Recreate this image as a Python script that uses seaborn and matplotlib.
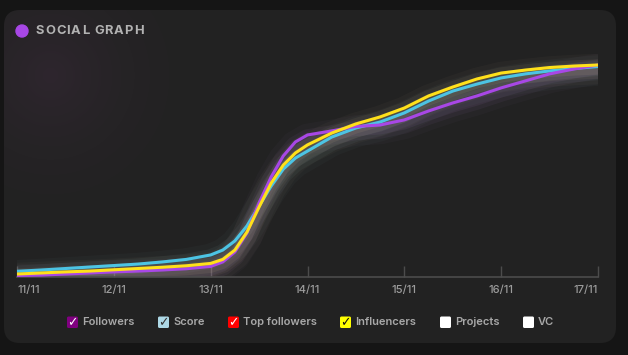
import numpy as np
import pandas as pd
import matplotlib
matplotlib.use("Agg")
import matplotlib.pyplot as plt
import matplotlib.dates as mdates
import matplotlib.transforms as mtrans
from matplotlib.patches import FancyBboxPatch, Circle
import seaborn as sns

# data: every 6h, every 3h during the jump on 13/11
timestamps = (list(pd.date_range("2023-11-11 00:00", "2023-11-13 00:00", freq="6h"))
              + list(pd.date_range("2023-11-13 03:00", "2023-11-14 00:00", freq="3h"))
              + list(pd.date_range("2023-11-14 06:00", "2023-11-17 00:00", freq="6h")))
followers = [0.7, 0.9, 1.4, 1.9, 2.4, 2.8, 3.3, 3.9, 5.0,
             7.1, 11.8, 20.8, 34.9, 47.2, 57.1, 63.7, 67.0,
             68.9, 71.0, 71.7, 74.1, 78.3, 82.1, 85.4, 89.2, 92.5, 95.8, 98.1, 100.0]
score = [2.7, 3.3, 4.0, 4.7, 5.4, 6.1, 7.1, 8.3, 10.4,
         12.7, 17.0, 24.1, 33.5, 42.9, 50.9, 56.1, 59.4,
         66.0, 70.3, 73.1, 77.4, 83.0, 87.7, 91.0, 93.9, 95.8, 97.2, 98.3, 99.3]
influencers = [1.4, 1.9, 2.4, 2.8, 3.4, 4.0, 4.6, 5.3, 6.4,
               8.3, 12.7, 21.2, 33.0, 44.3, 52.8, 58.5, 62.3,
               67.9, 72.2, 75.5, 79.7, 85.4, 89.6, 93.4, 96.2, 97.6, 98.8, 99.5, 100.0]

series_order = ["Score", "Followers", "Influencers"]
line_colors = {"Followers": "#a847e6", "Score": "#4cc4e4", "Influencers": "#ffe01a"}
glow_colors = {"Followers": "#9c76b6", "Score": "#88aab4", "Influencers": "#d0b88e"}

legend_labels = ["Followers", "Score", "Top followers", "Influencers", "Projects", "VC"]
legend_fill = ["#800080", "#add8e6", "#ff0000", "#ffff00", "#ffffff", "#ffffff"]
legend_checked = [True, True, True, True, False, False]
legend_check_color = ["#ffffff", "#333333", "#ffffff", "#111111", "#ffffff", "#ffffff"]

tick_days = pd.date_range("2023-11-11", "2023-11-17", freq="D")

n = len(timestamps)
df = pd.DataFrame({
    "time": timestamps * 3,
    "value": followers + score + influencers,
    "series": ["Followers"] * n + ["Score"] * n + ["Influencers"] * n,
})

sns.set_theme(style="dark")
plt.rcParams["font.family"] = ["Inter", "DejaVu Sans"]

W, H = 628, 355
fig = plt.figure(figsize=(W / 100, H / 100), dpi=100)
fig.patch.set_facecolor("#151515")

# background layer in pixel coords
bg = fig.add_axes([0, 0, 1, 1])
bg.set_xlim(0, W)
bg.set_ylim(H, 0)
bg.axis("off")
card = FancyBboxPatch((4, 10), 612, 333, boxstyle="round,pad=0,rounding_size=16",
                      fc="#222222", ec="none")
bg.add_patch(card)

# faint purple haze in the top-left corner of the card
yy, xx = np.mgrid[0:H, 0:W]
d = np.hypot(xx - 50, yy - 75) / 160
haze = np.zeros((H, W, 4))
haze[..., 0] = 0.40
haze[..., 1] = 0.22
haze[..., 2] = 0.40
haze[..., 3] = np.clip(1 - d, 0, 1) ** 1.8 * 0.18
im = bg.imshow(haze, extent=(0, W, H, 0), aspect="auto", zorder=1)
im.set_clip_path(card)

bg.add_patch(Circle((22, 31), 6, color="#a847e6", zorder=3))
renderer = fig.canvas.get_renderer()
x = 36
for ch in "SOCIAL GRAPH":
    if ch == " ":
        x += 4
        continue
    t = bg.text(x, 31.5, ch, fontsize=9.3, fontweight="bold", color="#b2b2b2",
                va="center", ha="left", zorder=3)
    x += t.get_window_extent(renderer).width + 0.9

# main chart
ax = fig.add_axes([17 / W, (H - 277) / H, 581 / W, (277 - 54.4) / H])
ax.set_facecolor("none")

# soft glow under each line
shifted = mtrans.offset_copy(ax.transData, fig=fig, x=0, y=-4, units="dots")
for name, vals in [("Score", score), ("Followers", followers), ("Influencers", influencers)]:
    for lw, a in [(22, 0.04), (14, 0.07), (8, 0.1)]:
        ax.plot(timestamps, vals, color=glow_colors[name], lw=lw, alpha=a,
                transform=shifted, solid_capstyle="round", solid_joinstyle="round",
                zorder=1)

sns.lineplot(data=df, x="time", y="value", hue="series", hue_order=series_order,
             palette=line_colors, linewidth=2.2, legend=False, ax=ax, zorder=3)
for ln in ax.get_lines():
    ln.set_solid_joinstyle("round")

ax.set_xlim(tick_days[0], tick_days[-1])
ax.set_ylim(0, 105)
ax.set_xlabel("")
ax.set_ylabel("")
ax.set_yticks([])
ax.grid(False)
for s in ["top", "left", "right"]:
    ax.spines[s].set_visible(False)
ax.spines["bottom"].set_color("#4c4c4c")
ax.spines["bottom"].set_linewidth(1.2)

ax.set_xticks(tick_days)
ax.xaxis.set_major_formatter(mdates.DateFormatter("%d/%m"))
ax.tick_params(axis="x", direction="in", length=8, width=1, color="#4c4c4c",
               labelcolor="#9c9c9c", labelsize=8, pad=6, bottom=True)
labels = ax.get_xticklabels()
for lab in labels:
    lab.set_fontweight("medium")
labels[0].set_horizontalalignment("left")
labels[-1].set_horizontalalignment("right")

# legend with checkboxes
box_x = [67, 158, 228, 340, 440, 523]
for bx, lab, fc, chk, cc in zip(box_x, legend_labels, legend_fill, legend_checked,
                                legend_check_color):
    bg.add_patch(FancyBboxPatch((bx, 316.5), 11, 11.5,
                                boxstyle="round,pad=0,rounding_size=1.5",
                                fc=fc, ec="none", zorder=3))
    if chk:
        bg.text(bx + 5.5, 322.5, "\u2713", fontsize=9, fontweight="bold", color=cc,
                ha="center", va="center", family=["DejaVu Sans"], zorder=4)
    bg.text(bx + 15, 322, lab, fontsize=8, fontweight="semibold", color="#a8a8a8",
            ha="left", va="center", zorder=3)

fig.savefig("out.png", dpi=100, facecolor=fig.get_facecolor())
